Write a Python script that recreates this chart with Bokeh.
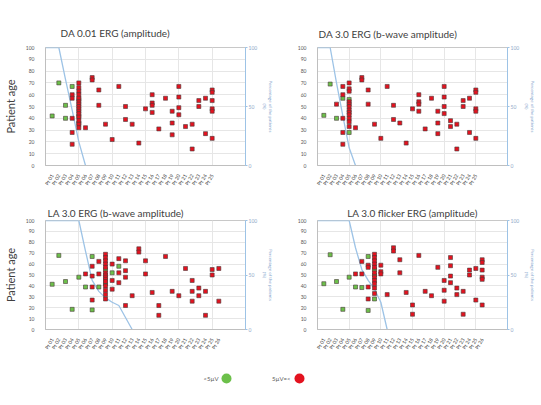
from bokeh.plotting import figure
from bokeh.models import Range1d, LinearAxis, FixedTicker, SingleIntervalTicker
from bokeh.layouts import column, row
from bokeh.embed import file_html
from bokeh.resources import INLINE
from bokeh.core.properties import value

FONT = "Lato"
RED = "#e3121f"
GREEN = "#6cc04a"
BLUE = "#9dc3e6"
EDGE = "#4a3a3a"

titles = ["DA 0.01 ERG (amplitude)", "DA 3.0 ERG (b-wave amplitude)",
          "LA 3.0 ERG (b-wave amplitude)", "LA 3.0 flicker ERG (amplitude)"]
y_label = "Patient age"
right_label = "Percentage of the patients\n(%)"
legend_labels = ["<5\u00b5V", "5\u00b5V=<"]

x_labels = ["Pt 01", "Pt 02", "Pt 03", "Pt 04", "Pt 05", "Pt 06", "Pt 07", "Pt 08",
            "Pt 09", "Pt 10", "Pt 11", "Pt 12", "Pt 13", "Pt 14", "Pt 15", "Pt 16",
            "Pt 17", "Pt 18", "Pt 19", "Pt 20", "Pt 21", "Pt 22", "Pt 23", "Pt 24",
            "Pt 25", "Pt 26"]
pct_ticks = [0, 50, 100]

# ---- DA 0.01 ERG ----
tl_green_cols = [1, 2, 3, 4, 5]
tl_green_ages = [[42], [70], [51, 40], [67], [56, 42, 36]]
tl_red_cols = [4, 5, 6, 7, 8, 9, 10, 11, 12, 13, 14, 15, 16, 17, 18, 19, 20, 21, 22, 23, 24, 25]
tl_red_ages = [[60, 57, 40, 28, 18],
               [70, 66, 63, 60, 57, 54, 52, 50, 48, 46, 44, 41, 38, 35, 32],
               [32], [74.5, 72.5], [64, 51], [35], [22], [67], [50, 39], [35], [19], [48],
               [60, 53, 51, 45], [31], [57], [46, 36, 26], [67, 58, 49, 43], [33], [35, 14],
               [55, 50], [57, 27], [64, 62, 55, 48, 46, 23]]
tl_pct = [100, 100, 100, 73, 47, 20, 0]

# ---- DA 3.0 ERG ----
tr_green_cols = [1, 2, 3, 4, 5]
tr_green_ages = [[42.5], [69], [40], [57], [56, 28]]
tr_red_cols = [3, 4, 5, 6, 7, 8, 9, 10, 11, 12, 13, 14, 15, 16, 17, 18, 19, 20, 21, 22, 23, 24, 25]
tr_red_ages = [[52], [67, 60, 40, 28, 18],
               [70, 65, 63, 54, 52, 50, 47, 45, 43, 40, 37, 33],
               [32], [74.5, 72.5], [64, 52], [35], [23], [67], [51, 39], [36], [19], [48],
               [60, 54, 52, 46], [31], [57], [46, 36, 27], [67, 58, 50, 44], [38, 33],
               [35, 14], [55, 50], [57, 28], [64, 62, 48, 46, 23]]
tr_pct = [100, 100, 100, 70, 42, 15, 0]

# ---- LA 3.0 ERG ----
bl_green_cols = [1, 2, 3, 4, 5, 6, 7, 8, 9, 10, 11]
bl_green_ages = [[41.5], [68], [44], [18.5], [48], [39], [67, 18], [39], [55, 42], [52], [58]]
bl_red_cols = [6, 7, 8, 9, 10, 11, 12, 13, 14, 15, 16, 17, 18, 19, 20, 21, 22, 23, 24, 25, 26]
bl_red_ages = [[51], [58, 49, 39, 27], [62.5, 51],
               [69, 66, 63, 60, 57, 52, 50, 48, 46, 44, 40, 36, 32, 28],
               [60, 45, 37], [65, 52, 43], [63, 54, 48, 22], [31], [74, 71], [63, 51], [34],
               [22, 13], [67], [35], [31], [56], [45, 35, 26], [38, 31], [35, 13], [55, 50],
               [56, 26]]
bl_pct = [100, 100, 100, 100, 100, 100, 72, 45, 35, 29, 25, 22, 11, 0]

# ---- LA 3.0 flicker ERG ----
br_green_cols = [1, 2, 3, 4, 5, 6, 7, 8, 9]
br_green_ages = [[42], [68.6], [44], [18.5], [48], [39], [38.5], [67, 17.5], [55, 50, 28]]
br_red_cols = [6, 7, 8, 9, 10, 11, 12, 13, 14, 15, 16, 17, 18, 19, 20, 21, 22, 23, 24, 25, 26]
br_red_ages = [[51], [62.5, 51], [59, 57, 39, 28],
               [69, 66, 63, 60, 57, 52, 48, 45, 42, 38, 33],
               [59, 53, 51], [32], [75, 72], [64, 52], [34], [22.5, 14], [68], [35], [31],
               [57], [45, 36, 26], [66, 58.5, 49, 43], [38, 32], [35, 14], [54.5, 50],
               [56, 27], [64, 61.5, 54.5, 48, 46, 22.5]]
br_pct = [100, 100, 100, 100, 100, 100, 75, 55, 45, 37, 25, 0]


def expand(cols, ages):
    xs, ys = [], []
    for c, a in zip(cols, ages):
        for v in a:
            xs.append(c)
            ys.append(v)
    return xs, ys


def panel(title, gcols, gages, rcols, rages, pct, ncols, show_ylabel,
          fw, fh, bl, br, bt, bb, t_align, t_offset, t_standoff):
    p = figure(frame_width=fw, frame_height=fh, min_border_left=bl, min_border_right=br,
               min_border_top=bt, min_border_bottom=bb,
               x_range=Range1d(0, 30), y_range=Range1d(0, 100),
               output_backend="svg", toolbar_location=None, title=title)
    p.extra_y_ranges = {"pct": Range1d(0, 100)}
    p.background_fill_color = "white"
    p.border_fill_color = "white"
    p.outline_line_color = "#c8c8c8"
    p.title.text_font = FONT
    p.title.text_font_size = "10px"
    p.title.text_font_style = "normal"
    p.title.text_color = "#404040"
    p.title.align = t_align
    p.title.offset = t_offset
    p.title.standoff = t_standoff

    p.ygrid.ticker = SingleIntervalTicker(interval=10)
    p.ygrid.grid_line_color = "#e6e6e6"
    p.xgrid.ticker = FixedTicker(ticks=[5, 10, 15, 20, 25])
    p.xgrid.grid_line_color = "#e6e6e6"

    ya = p.yaxis[0]
    ya.ticker = SingleIntervalTicker(interval=10)
    ya.major_label_text_font = FONT
    ya.major_label_text_font_size = "5px"
    ya.major_label_text_color = "#595959"
    ya.major_tick_line_color = None
    ya.minor_tick_line_color = None
    ya.axis_line_color = "#bfbfbf"
    ya.major_label_standoff = 5
    if show_ylabel:
        ya.axis_label = y_label
        ya.axis_label_text_font = FONT
        ya.axis_label_text_font_size = "11px"
        ya.axis_label_text_font_style = "normal"
        ya.axis_label_text_color = "#404040"
        ya.axis_label_standoff = 6

    xa = p.xaxis[0]
    ticks = list(range(1, ncols + 1))
    xa.ticker = FixedTicker(ticks=ticks)
    xa.major_label_overrides = {t: x_labels[t - 1] for t in ticks}
    xa.major_label_orientation = 1.05
    xa.major_label_text_font = FONT
    xa.major_label_text_font_size = "5px"
    xa.major_label_text_color = "#404040"
    xa.major_tick_line_color = None
    xa.minor_tick_line_color = None
    xa.axis_line_color = "#bfbfbf"
    xa.major_label_standoff = 3

    ra = LinearAxis(y_range_name="pct", ticker=FixedTicker(ticks=pct_ticks),
                    axis_label=right_label)
    ra.axis_line_color = BLUE
    ra.major_tick_line_color = BLUE
    ra.major_tick_out = 2
    ra.major_tick_in = 0
    ra.minor_tick_line_color = None
    ra.major_label_text_font = FONT
    ra.major_label_text_font_size = "5px"
    ra.major_label_text_color = "#8fa9c8"
    ra.major_label_standoff = 1
    ra.axis_label_text_font = FONT
    ra.axis_label_text_font_size = "4.5px"
    ra.axis_label_text_font_style = "normal"
    ra.axis_label_text_color = "#7fa3cc"
    ra.axis_label_standoff = 2
    p.add_layout(ra, "right")

    p.line(list(range(len(pct))), pct, y_range_name="pct", line_color=BLUE, line_width=1.3)

    gx, gy = expand(gcols, gages)
    rx, ry = expand(rcols, rages)
    p.scatter(gx, gy, marker="square", size=4, fill_color=GREEN, line_color=EDGE,
              line_width=0.6)
    p.scatter(rx, ry, marker="square", size=4, fill_color=RED, line_color=EDGE,
              line_width=0.6)
    return p


tl = panel(titles[0], tl_green_cols, tl_green_ages, tl_red_cols, tl_red_ages, tl_pct, 25,
           True, 200, 118, 42, 24, 47, 25, "left", 15, 17)
tr = panel(titles[1], tr_green_cols, tr_green_ages, tr_red_cols, tr_red_ages, tr_pct, 25,
           False, 190, 118, 41, 22, 47, 25, "left", 1, 15)
bl = panel(titles[2], bl_green_cols, bl_green_ages, bl_red_cols, bl_red_ages, bl_pct, 26,
           True, 200, 109, 42, 24, 30, 25, "left", 2, 3)
br = panel(titles[3], br_green_cols, br_green_ages, br_red_cols, br_red_ages, br_pct, 26,
           False, 190, 109, 41, 22, 30, 25, "center", 0, 3)

# legend strip
lg = figure(width=520, height=35, x_range=Range1d(0, 520), y_range=Range1d(0, 35),
            output_backend="svg", toolbar_location=None, min_border=0)
lg.axis.visible = False
lg.grid.visible = False
lg.outline_line_color = None
lg.text([218, 290], [11, 11], text=legend_labels, text_align="right", text_baseline="middle",
        text_font=value(FONT), text_font_size="6px", text_color="#595959")
lg.scatter([226, 299], [11, 11], marker="circle", size=10,
           fill_color=[GREEN, RED], line_color=None)

layout = column(row(tl, tr), row(bl, br), lg)
open("out.html", "w").write(file_html(layout, INLINE))
